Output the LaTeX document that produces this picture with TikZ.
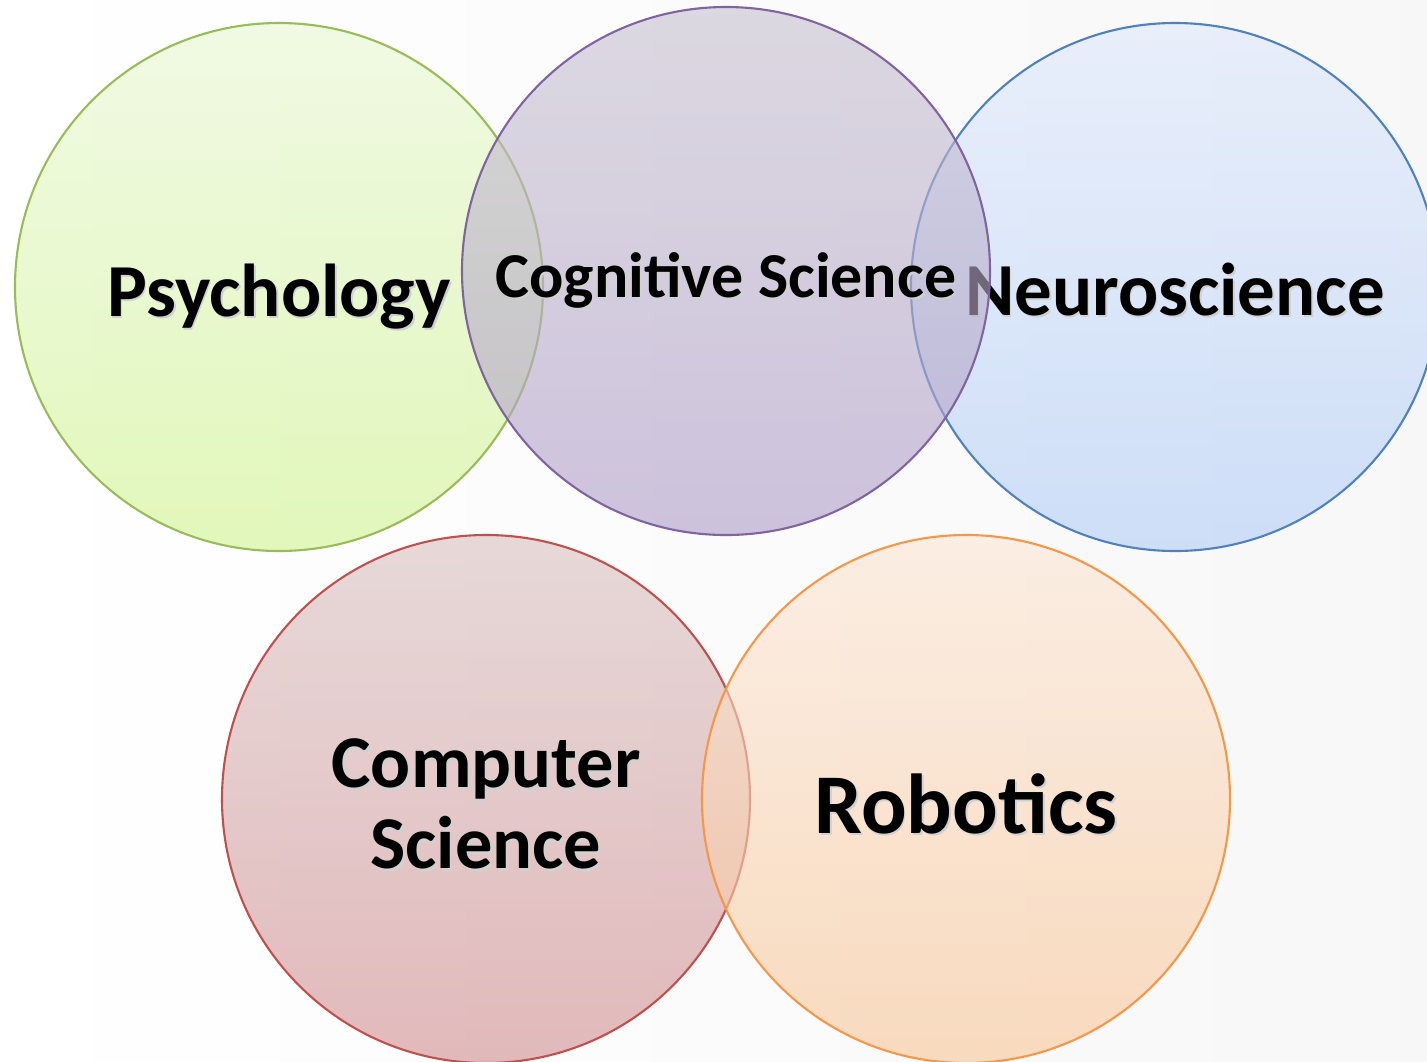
\documentclass[tikz,border=0pt]{standalone}
\usepackage{fontspec}
\setmainfont{Carlito}
\usetikzlibrary{positioning}

\definecolor{psyline}{HTML}{9BBB59}
\definecolor{psytop}{RGB}{232,248,210}
\definecolor{psybot}{RGB}{207,243,142}
\definecolor{cogline}{HTML}{8064A2}
\definecolor{cogtop}{RGB}{199,193,208}
\definecolor{cogbot}{RGB}{174,156,199}
\definecolor{neuline}{HTML}{4F81BD}
\definecolor{neutop}{RGB}{222,232,252}
\definecolor{neubot}{RGB}{177,205,247}
\definecolor{csline}{HTML}{C0504D}
\definecolor{cstop}{RGB}{217,193,193}
\definecolor{csbot}{RGB}{208,140,143}
\definecolor{robline}{HTML}{F79646}
\definecolor{robtop}{RGB}{252,230,213}
\definecolor{robbot}{RGB}{248,197,150}

\newcommand{\fs}[2]{\fontsize{#1}{#2}\selectfont\bfseries}
\newcommand{\shd}[1]{\leavevmode\rlap{\kern0.5pt\raisebox{-0.8pt}{\textcolor{black!18}{#1}}}#1}

\begin{document}
\begin{tikzpicture}[
  disc/.style = {circle, minimum size=5.28cm, inner sep=0pt, line width=0.6pt, fill opacity=0.6},
  ttl/.style  = {inner sep=0pt, text=black, anchor=base}
]
\useasboundingbox (0,0) rectangle (14.27,10.61);
\shade[left color=white, right color=black!3] (0,0) rectangle (14.27,10.61);

% ---------- top row ---------------------------------------------------
\node[disc, draw=psyline, top color=psytop, bottom color=psybot] (psy) at (2.79,7.74) {};
\node[disc, draw=neuline, top color=neutop, bottom color=neubot] (neu) at (11.75,7.74) {};
\node[ttl, font=\fs{21.3}{25}] (neut) at ([yshift=-2.8mm]neu.center) {\shd{Neuroscience}};
\node[disc, draw=cogline, top color=cogtop, bottom color=cogbot] (cog) at (7.26,7.90) {};
\node[ttl, font=\fs{18.2}{22}] (cogt) at ([yshift=-2.6mm]cog.center) {\shd{Cognitive Science}};
\node[ttl, font=\fs{21.3}{25}] (psyt) at ([yshift=-2.9mm]psy.center) {\shd{Psychology}};

% ---------- bottom row ------------------------------------------------
\node[disc, draw=csline, top color=cstop, bottom color=csbot] (cs) at (4.86,2.62) {};
\node[disc, draw=robline, top color=robtop, bottom color=robbot] (rob) at (9.66,2.62) {};
\node[ttl, font=\fs{21.2}{23}, align=center, anchor=center] (cst) at ([yshift=-0.6mm]cs.center)
  {\shd{Computer}\\\shd{Science}};
\node[ttl, font=\fs{24.2}{28}] (robt) at ([yshift=-3.4mm]rob.center) {\shd{Robotics}};

\end{tikzpicture}
\end{document}
